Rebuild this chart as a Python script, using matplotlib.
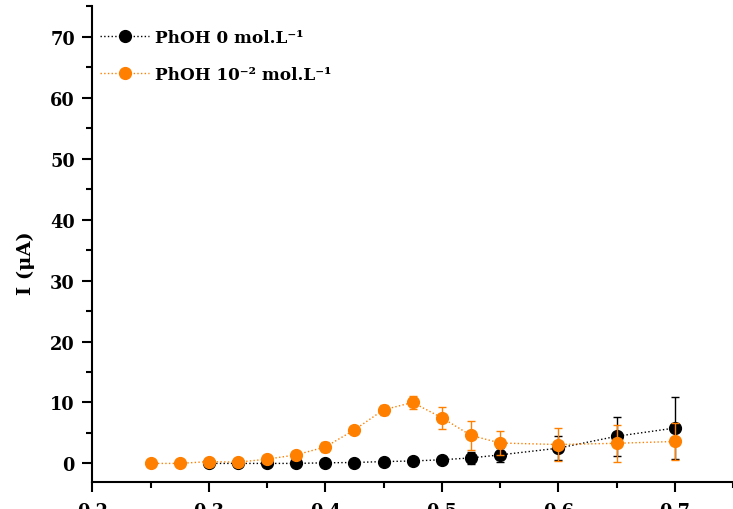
import matplotlib
matplotlib.use("Agg")
import matplotlib.pyplot as plt
from matplotlib.ticker import MultipleLocator

# potential (V) and current (uA)
x_blank = [0.3, 0.325, 0.35, 0.375, 0.4, 0.425, 0.45, 0.475, 0.5, 0.525, 0.55, 0.6, 0.65, 0.7]
i_blank = [0.0, 0.0, 0.0, 0.0, 0.1, 0.15, 0.3, 0.4, 0.6, 0.9, 1.4, 2.5, 4.45, 5.8]
e_blank = [0.1, 0.1, 0.1, 0.1, 0.1, 0.1, 0.2, 0.2, 0.3, 1.0, 1.2, 2.0, 3.2, 5.1]

x_phoh = [0.25, 0.275, 0.3, 0.325, 0.35, 0.375, 0.4, 0.425, 0.45, 0.475, 0.5, 0.525, 0.55, 0.6, 0.65, 0.7]
i_phoh = [0.0, 0.0, 0.3, 0.2, 0.7, 1.4, 2.7, 5.5, 8.8, 10.0, 7.5, 4.6, 3.35, 3.1, 3.3, 3.6]
e_phoh = [0.1, 0.1, 0.2, 0.2, 0.3, 0.5, 0.8, 0.4, 0.8, 1.0, 1.8, 2.4, 2.0, 2.7, 3.0, 3.0]

labels = ['PhOH 0 mol.L\u207b\u00b9', 'PhOH 10\u207b\u00b2 mol.L\u207b\u00b9']

plt.rcParams['font.family'] = ['DejaVu Serif']
plt.rcParams['font.weight'] = 'bold'

fig = plt.figure(figsize=(7.33, 5.10), dpi=100)
ax = fig.add_axes([92.3 / 733, (510 - 482.7) / 510, 1 - 92.3 / 733, (482.7 - 7.3) / 510])

orange = '#ff8000'
series = [(x_blank, i_blank, e_blank, 'black'), (x_phoh, i_phoh, e_phoh, orange)]
handles = []
for k, (xs, ys, es, c) in enumerate(series):
    ax.errorbar(xs, ys, yerr=es, color=c, marker='o', markersize=8.5,
                linestyle=':', linewidth=1, elinewidth=1, capsize=3, zorder=3 + k)
    h, = ax.plot([], [], color=c, marker='o', markersize=8.5, linestyle=':', linewidth=1)
    handles.append(h)

ax.set_xlim(0.2, 0.75)
ax.set_ylim(-3, 75)
ax.xaxis.set_major_locator(MultipleLocator(0.1))
ax.xaxis.set_minor_locator(MultipleLocator(0.05))
ax.yaxis.set_major_locator(MultipleLocator(10))
ax.yaxis.set_minor_locator(MultipleLocator(5))

for side in ['top', 'right']:
    ax.spines[side].set_visible(False)
for side in ['left', 'bottom']:
    ax.spines[side].set_linewidth(1.5)
ax.tick_params(which='major', length=7.5, width=1.5, labelsize=12.8, pad=5)
ax.tick_params(which='minor', length=4.5, width=1.5)
ax.tick_params(axis='x', pad=7)

ax.set_ylabel('I (μA)', fontsize=14, fontweight='bold')
ax.yaxis.set_label_coords(-0.089, 0.462)

leg = ax.legend(handles, labels, loc='upper left', frameon=False, fontsize=12.2,
                handlelength=2.9, handletextpad=0.35, labelspacing=1.15,
                bbox_to_anchor=(0.012, 0.9515), borderaxespad=0, borderpad=0)

fig.savefig('out.png', dpi=100)
